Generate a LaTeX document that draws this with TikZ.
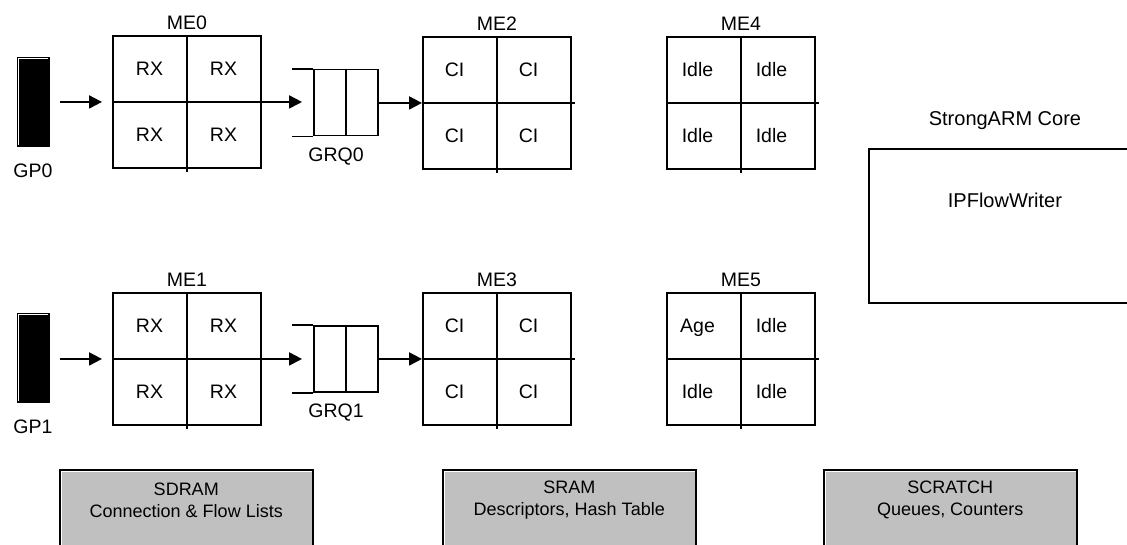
\documentclass[tikz,border=0pt]{standalone}
\usepackage{fontspec}
\setmainfont{Liberation Sans}
\usetikzlibrary{arrows.meta}
\definecolor{memgray}{HTML}{C0C0C0}

\tikzset{
  wire/.style={line width=1.9pt},
  arr/.style={wire,-{Triangle[length=13pt,width=13pt]}},
  mebox/.style={draw,line width=1.9pt,minimum width=148pt,minimum height=132pt,
    inner sep=0pt,anchor=north west},
  qbox/.style={draw,line width=1.9pt,minimum width=64pt,minimum height=66pt,inner sep=0pt},
  gpblock/.style={draw,fill=black,line width=1pt,minimum width=32pt,minimum height=89pt,inner sep=0pt},
  hilite/.style={white,line width=1.2pt},
  membox/.style={draw,fill=memgray,line width=1.5pt,minimum width=253pt,minimum height=100pt,
    inner sep=0pt,anchor=north west},
  cell/.style={font=\fontsize{19.5}{22}\selectfont,inner sep=0pt,text height=14pt,text depth=0pt},
  memtext/.style={font=\fontsize{18}{22}\selectfont,align=center,inner sep=0pt},
  coretext/.style={font=\fontsize{20}{24}\selectfont,inner sep=0pt},
}

% horizontal offset of the thread names inside a grid cell
\newcommand\celldx{0}

% microengine: 2x2 grid of threads with a caption above
\newcommand\megrid[8]{%
  \node[mebox] (#1) at (#2,#3) {};
  \draw[wire] ([xshift=75pt]#1.north west) -- ([xshift=75pt,yshift=-3pt]#1.south west);
  \draw[wire] (#1.west) -- ([xshift=3pt]#1.east);
  \node[cell] (#1-cap) at ([yshift=13pt]#1.north) {#4};
  \node[cell] (#1-a) at ([xshift=37.5pt+\celldx pt,yshift=-33pt]#1.north west) {#5};
  \node[cell] (#1-b) at ([xshift=111.5pt+\celldx pt,yshift=-33pt]#1.north west) {#6};
  \node[cell] (#1-c) at ([xshift=37.5pt+\celldx pt,yshift=-99pt]#1.north west) {#7};
  \node[cell] (#1-d) at ([xshift=111.5pt+\celldx pt,yshift=-99pt]#1.north west) {#8};
}

% receive port: dark block with a light bevel
\newcommand\gport[4]{%
  \node[gpblock] (#1) at (#2,#3) {};
  \draw[hilite] ([xshift=2.3pt,yshift=1.5pt]#1.south west) |- ([xshift=-2pt,yshift=-2.3pt]#1.north east);
  \node[cell] (#1-cap) at ([yshift=-24pt]#1.south) {#4};
}

% hardware queue: three slots, open on the input side
\newcommand\hwqueue[4]{%
  \node[qbox] (#1) at (#2,#3) {};
  \draw[wire] (#1.north) -- (#1.south);
  \draw[wire] (#1.north west) -- ++(-21,0);
  \draw[wire] (#1.south west) -- ++(-21,0);
  \node[cell] (#1-cap) at ([xshift=-10pt,yshift=-18pt]#1.south) {#4};
}

% memory unit: bevelled grey panel
\newcommand\memunit[4]{%
  \node[membox] (#1) at (#2,469) {};
  \draw[hilite] ([xshift=2.5pt]#1.south west) |- ([xshift=-2pt,yshift=-2.5pt]#1.north east);
  \node[memtext] (#1-txt) at ([yshift=-31pt]#1.north) {#3\\#4};
}

\begin{document}
\begin{tikzpicture}[x=1pt,y=-1pt]
  \useasboundingbox (0,0) rectangle (1127,544);
  \clip (0,0) rectangle (1127,544);

  % receive ports
  \gport{gp0}{33}{101.5}{GP0}
  \gport{gp1}{33}{357.5}{GP1}

  % microengines
  \megrid{me0}{112}{35}{ME0}{RX}{RX}{RX}{RX}
  \megrid{me1}{112}{292}{ME1}{RX}{RX}{RX}{RX}
  \renewcommand\celldx{-5}
  \megrid{me2}{422}{36}{ME2}{CI}{CI}{CI}{CI}
  \megrid{me3}{422}{292}{ME3}{CI}{CI}{CI}{CI}
  \renewcommand\celldx{-6}
  \megrid{me4}{666}{36}{ME4}{Idle}{Idle}{Idle}{Idle}
  \megrid{me5}{666}{292}{ME5}{Age}{Idle}{Idle}{Idle}

  % queues between receive and classify stages
  \hwqueue{grq0}{346}{102.5}{GRQ0}
  \hwqueue{grq1}{346}{359}{GRQ1}

  % data flow
  \draw[arr,shorten <=10pt,shorten >=10pt] (me0.west -| gp0.east) -- (me0.west);
  \draw[arr,shorten >=11pt] (me0.east) -- (me0.east -| grq0.west);
  \draw[arr] (me2.west -| grq0.east) -- (me2.west);
  \draw[arr,shorten <=10pt,shorten >=10pt] (me1.west -| gp1.east) -- (me1.west);
  \draw[arr,shorten >=11pt] (me1.east) -- (me1.east -| grq1.west);
  \draw[arr] (me3.west -| grq1.east) -- (me3.west);

  % core processor
  \node[draw,line width=1.9pt,minimum width=272pt,minimum height=154pt,inner sep=0pt,
        anchor=north west] (sa) at (868,148) {};
  \node[coretext] (sa-cap) at ([yshift=27pt]sa.north) {StrongARM Core};
  \node[coretext] (sa-app) at ([yshift=-52pt]sa.north) {IPFlowWriter};

  % memories
  \memunit{sdram}{59}{SDRAM}{Connection \& Flow Lists}
  \memunit{sram}{442}{SRAM}{Descriptors, Hash Table}
  \memunit{scratch}{823}{SCRATCH}{Queues, Counters}
\end{tikzpicture}
\end{document}
